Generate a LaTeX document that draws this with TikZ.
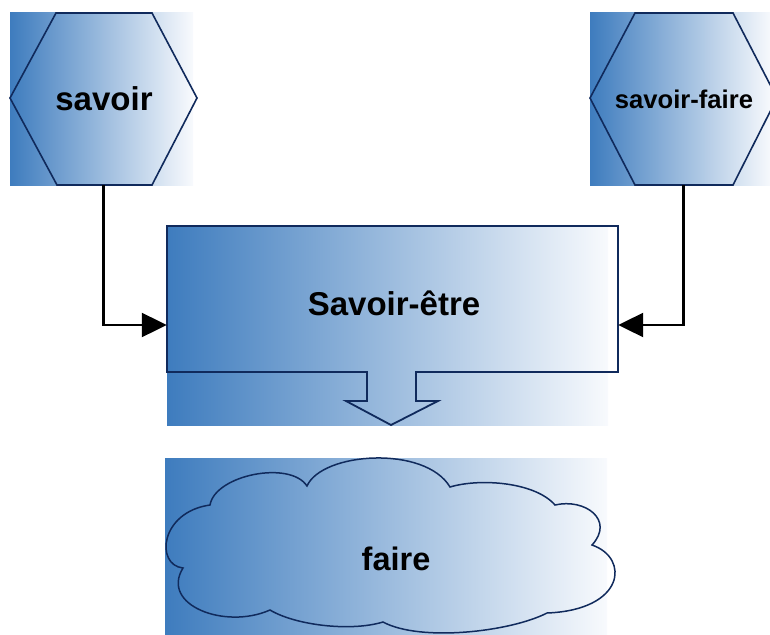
\documentclass[tikz,border=0pt]{standalone}
\usepackage{fontspec}
\setmainfont{Liberation Sans}
\usetikzlibrary{arrows.meta,calc}
\definecolor{gblue}{RGB}{62,124,190}
\definecolor{gwhite}{RGB}{248,250,253}
\definecolor{navy}{RGB}{16,42,92}
\begin{document}
\begin{tikzpicture}[x=1pt,y=-1pt,
  grad/.style={left color=gblue, right color=gwhite, draw=none},
  outline/.style={draw=navy, line width=1.6pt, line join=miter},
  conn/.style={draw=black, line width=2.2pt, -{Triangle[length=25pt,width=24pt]}},
  holder/.style={draw=none, inner sep=0pt},
  lbl/.style={font=\bfseries\fontsize{33}{36}\selectfont, text=black, inner sep=0pt, anchor=base}]
\useasboundingbox (0,0) rectangle (770,634);
% savoir
\fill[grad] (10,13) rectangle (193,185);
\draw[outline] (10,98) -- (56,13) -- (152,13) -- (197,98) -- (152,185) -- (57,185) -- cycle;
\node[holder, minimum width=187pt, minimum height=172pt] (hexL) at (103.5,99) {};
\node[lbl] (savoir) at (104,110) {savoir};
% savoir-faire
\fill[grad] (590,13) rectangle (772,185);
\draw[outline] (590,98) -- (635,13) -- (733,13) -- (777,98) -- (733,185) -- (635,185) -- cycle;
\node[holder, minimum width=187pt, minimum height=172pt] (hexR) at (683.5,99) {};
\node[lbl, font=\bfseries\fontsize{25.6}{30}\selectfont] (savoirfaire) at (684,108) {savoir-faire};
% Savoir-etre
\fill[grad] (167,226) rectangle (608,425);
\draw[outline, line width=1.8pt] (167,226) -- (618,226) -- (618,372) -- (416,372) -- (416,401) -- (438,401) -- (391,425) -- (346,401) -- (367,401) -- (367,372) -- (167,372) -- cycle;
\node[holder, minimum width=451pt, minimum height=146pt] (etreBox) at (392.5,299) {};
\node[lbl] (etre) at (394,315) {Savoir-être};
% faire
\fill[grad] (165,458) rectangle (607,634);
\draw[outline, line width=1.5pt]
  (210,505) .. controls (215,475) and (290,460) .. (307,486)
  .. controls (322,452) and (425,445) .. (450,487)
  .. controls (480,478) and (535,482) .. (555,505)
  .. controls (585,498) and (615,520) .. (592,545)
  .. controls (630,558) and (625,610) .. (547,613)
  .. controls (510,632) and (420,642) .. (383,622)
  .. controls (350,632) and (295,625) .. (270,610)
  .. controls (225,630) and (160,605) .. (183,568)
  .. controls (155,565) and (160,512) .. (210,505) -- cycle;
\node[lbl, font=\bfseries\fontsize{32.5}{36}\selectfont] (faire) at (396,570) {faire};
% connectors
\draw[conn] (hexL.south) |- ([yshift=-26pt]etreBox.west);
\draw[conn] (hexR.south) |- ([yshift=-26pt]etreBox.east);
\end{tikzpicture}
\end{document}
